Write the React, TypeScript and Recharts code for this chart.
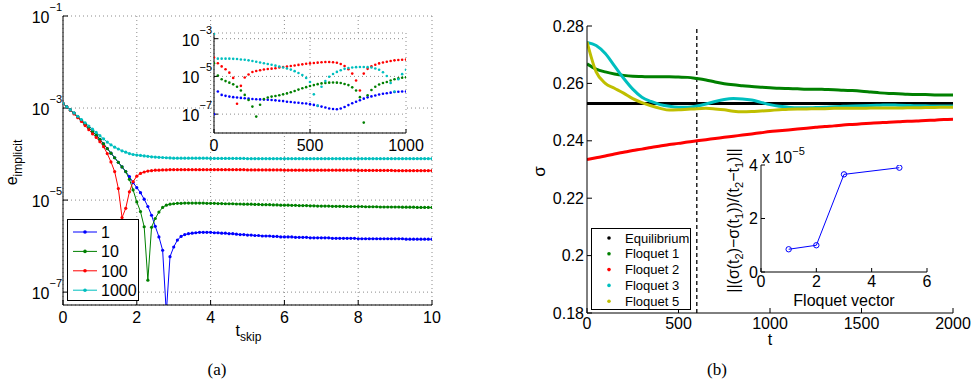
import React from 'react';
import { LineChart, Line, XAxis, YAxis, CartesianGrid, Legend, ReferenceLine } from 'recharts';

const FONT = '"Liberation Sans", Arial, sans-serif';

// ---- panel (a): e_implicit vs t_skip, log10 values ----
const tSkip = Array.from({ length: 101 }, (_, i) => i / 10);

const logE1 = [
  -2.9, -2.97, -3.04, -3.11, -3.19, -3.27, -3.35, -3.43, -3.51, -3.59,
  -3.68, -3.78, -3.88, -3.98, -4.08, -4.18, -4.28, -4.38, -4.49, -4.62,
  -4.73, -4.84, -4.98, -5.14, -5.33, -5.57, -5.8, -6.09, -7.45, -6.23,
  -6.02, -5.87, -5.79, -5.75, -5.73, -5.72, -5.71, -5.7, -5.7, -5.7,
  -5.7, -5.71, -5.71, -5.72, -5.72, -5.73, -5.73, -5.74, -5.75, -5.75,
  -5.76, -5.76, -5.77, -5.77, -5.78, -5.78, -5.78, -5.79, -5.79, -5.8,
  -5.8, -5.8, -5.8, -5.81, -5.81, -5.81, -5.81, -5.82, -5.82, -5.82,
  -5.82, -5.82, -5.82, -5.83, -5.83, -5.83, -5.83, -5.83, -5.83, -5.83,
  -5.84, -5.84, -5.84, -5.84, -5.84, -5.84, -5.84, -5.84, -5.84, -5.84,
  -5.84, -5.84, -5.84, -5.85, -5.85, -5.85, -5.85, -5.85, -5.85, -5.85,
  -5.85,
];
const logE10 = [
  -2.9, -2.97, -3.04, -3.11, -3.19, -3.27, -3.35, -3.43, -3.51, -3.59,
  -3.68, -3.78, -3.88, -3.98, -4.08, -4.18, -4.28, -4.38, -4.55, -4.78,
  -5.04, -5.25, -5.58, -6.74, -5.59, -5.4, -5.26, -5.16, -5.11, -5.09,
  -5.08, -5.07, -5.07, -5.065, -5.065, -5.065, -5.065, -5.065, -5.065, -5.07,
  -5.07, -5.07, -5.075, -5.075, -5.08, -5.08, -5.08, -5.085, -5.085, -5.09,
  -5.09, -5.09, -5.095, -5.095, -5.1, -5.1, -5.1, -5.105, -5.105, -5.11,
  -5.11, -5.11, -5.115, -5.115, -5.12, -5.12, -5.12, -5.125, -5.125, -5.13,
  -5.13, -5.13, -5.13, -5.135, -5.135, -5.135, -5.135, -5.14, -5.14, -5.14,
  -5.14, -5.14, -5.145, -5.145, -5.145, -5.145, -5.15, -5.15, -5.15, -5.15,
  -5.15, -5.15, -5.155, -5.155, -5.155, -5.155, -5.16, -5.16, -5.16, -5.16,
  -5.16,
];
const logE100 = [
  -2.9, -2.97, -3.05, -3.13, -3.21, -3.29, -3.38, -3.47, -3.56, -3.64,
  -3.73, -3.84, -3.99, -4.17, -4.38, -4.75, -5.38, -5.18, -4.82, -4.6,
  -4.48, -4.42, -4.39, -4.37, -4.36, -4.35, -4.35, -4.345, -4.345, -4.34,
  -4.34, -4.34, -4.34, -4.34, -4.34, -4.34, -4.34, -4.34, -4.34, -4.34,
  -4.34, -4.34, -4.34, -4.34, -4.34, -4.34, -4.34, -4.34, -4.34, -4.34,
  -4.345, -4.345, -4.345, -4.345, -4.345, -4.345, -4.345, -4.345, -4.345, -4.345,
  -4.35, -4.35, -4.35, -4.35, -4.35, -4.35, -4.35, -4.35, -4.35, -4.35,
  -4.35, -4.35, -4.35, -4.35, -4.35, -4.35, -4.35, -4.35, -4.35, -4.35,
  -4.355, -4.355, -4.355, -4.355, -4.355, -4.355, -4.355, -4.355, -4.355, -4.355,
  -4.36, -4.36, -4.36, -4.36, -4.36, -4.36, -4.36, -4.36, -4.36, -4.36,
  -4.36,
];
const logE1000 = [
  -2.9, -2.97, -3.04, -3.11, -3.18, -3.25, -3.32, -3.39, -3.46, -3.53,
  -3.6, -3.67, -3.74, -3.8, -3.85, -3.89, -3.93, -3.96, -3.99, -4.01,
  -4.02, -4.03, -4.04, -4.05, -4.06, -4.065, -4.07, -4.075, -4.08, -4.085,
  -4.09, -4.09, -4.09, -4.09, -4.09, -4.09, -4.09, -4.09, -4.09, -4.09,
  -4.095, -4.095, -4.095, -4.095, -4.095, -4.095, -4.095, -4.095, -4.095, -4.095,
  -4.1, -4.1, -4.1, -4.1, -4.1, -4.1, -4.1, -4.1, -4.1, -4.1,
  -4.1, -4.1, -4.1, -4.1, -4.1, -4.1, -4.1, -4.1, -4.1, -4.1,
  -4.1, -4.1, -4.1, -4.1, -4.1, -4.1, -4.1, -4.1, -4.1, -4.1,
  -4.1, -4.1, -4.1, -4.1, -4.1, -4.1, -4.1, -4.1, -4.1, -4.1,
  -4.1, -4.1, -4.1, -4.1, -4.1, -4.1, -4.1, -4.1, -4.1, -4.1,
  -4.1,
];

// ---- panel (a) inset, every 20 steps, log10 values ----
const tInset = Array.from({ length: 51 }, (_, i) => i * 20);

const logIn1 = [
  -7.0, -5.8, -5.98, -6.03, -6.07, -6.1, -6.12, -6.14, -6.16, -6.18,
  -6.2, -6.21, -6.22, -6.23, -6.24, -6.25, -6.27, -6.29, -6.31, -6.34,
  -6.36, -6.38, -6.4, -6.42, -6.44, -6.47, -6.51, -6.56, -6.6, -6.65,
  -6.7, -6.73, -6.74, -6.7, -6.62, -6.52, -6.42, -6.34, -6.26, -6.18,
  -6.11, -6.06, -6.01, -5.96, -5.92, -5.89, -5.86, -5.83, -5.81, -5.8,
  -5.8,
];
const logIn10 = [
  -4.3, -4.95, -5.15, -5.25, -5.33, -5.42, -5.55, -5.75, -5.98, -6.25,
  -6.6, -7.13, -6.5, -6.2, -6.12, -6.07, -6.04, -6.0, -5.95, -5.9,
  -5.84, -5.77, -5.7, -5.63, -5.57, -5.51, -5.46, -5.41, -5.37, -5.35,
  -5.33, -5.32, -5.33, -5.35, -5.4, -5.46, -5.58, -5.75, -6.1, -7.45,
  -6.0, -5.72, -5.55, -5.43, -5.35, -5.3, -5.22, -5.15, -5.1, -5.07,
  -5.05,
];
const logIn100 = [
  -4.0, -4.3, -4.47, -4.62, -4.8, -5.08, -6.45, -5.5, -5.06, -4.9,
  -4.77, -4.71, -4.67, -4.63, -4.61, -4.59, -4.57, -4.53, -4.5, -4.48,
  -4.45, -4.42, -4.39, -4.36, -4.33, -4.31, -4.29, -4.27, -4.25, -4.24,
  -4.24, -4.25, -4.28, -4.34, -4.45, -4.62, -4.85, -5.22, -5.75, -4.85,
  -4.6, -4.47, -4.38, -4.31, -4.26, -4.22, -4.18, -4.15, -4.13, -4.12,
  -4.11,
];
const logIn1000 = [
  -2.75, -4.06, -4.06, -4.06, -4.06, -4.07, -4.08, -4.1, -4.12, -4.15,
  -4.18, -4.22, -4.26, -4.3, -4.34, -4.38, -4.43, -4.48, -4.53, -4.58,
  -4.64, -4.72, -4.82, -4.93, -5.08, -5.3, -5.95, -6.55, -5.55, -5.25,
  -5.02, -4.87, -4.76, -4.67, -4.6, -4.56, -4.53, -4.51, -4.5, -4.5,
  -4.51, -4.53, -4.58, -4.65, -4.78, -4.98, -5.35, -5.8, -5.15, -4.88,
  -4.65,
];

// ---- panel (b): sigma vs t ----
const tSigma = Array.from({ length: 41 }, (_, i) => i * 50);

const sigmaEq = Array(41).fill(0.253);
const sigmaF1 = [
  0.2668, 0.265, 0.264, 0.2633, 0.2628, 0.2625, 0.2624, 0.2623, 0.2623, 0.2623,
  0.2622, 0.2621, 0.2617, 0.2612, 0.2605, 0.2599, 0.2595, 0.2592, 0.2589, 0.2587,
  0.2585, 0.2583, 0.2582, 0.2581, 0.258, 0.258, 0.2579, 0.2578, 0.2576, 0.2575,
  0.2573, 0.257, 0.2567, 0.2565, 0.2564, 0.2562, 0.2561, 0.2561, 0.256, 0.256,
  0.256,
];
const sigmaF2 = [
  0.2335, 0.2341, 0.2347, 0.2354, 0.236, 0.2366, 0.2371, 0.2377, 0.2382, 0.2387,
  0.2391, 0.2396, 0.24, 0.2404, 0.2408, 0.2412, 0.2416, 0.242, 0.2424, 0.2428,
  0.2432, 0.2435, 0.2438, 0.2441, 0.2444, 0.2447, 0.245, 0.2452, 0.2455, 0.2457,
  0.2459, 0.2461, 0.2463, 0.2465, 0.2466, 0.2468, 0.2469, 0.2471, 0.2472, 0.2474,
  0.2475,
];
const sigmaF3 = [
  0.2743, 0.2732, 0.2704, 0.2661, 0.2618, 0.258, 0.2552, 0.2537, 0.2526, 0.252,
  0.2517, 0.2517, 0.2521, 0.2528, 0.2537, 0.2544, 0.2547, 0.2546, 0.2542, 0.2534,
  0.2526, 0.252, 0.2517, 0.2515, 0.2515, 0.2516, 0.2517, 0.2519, 0.252, 0.2521,
  0.2522, 0.2523, 0.2524, 0.2525, 0.2524, 0.2523, 0.2522, 0.2522, 0.2521, 0.2521,
  0.2521,
];
const sigmaF5 = [
  0.2745, 0.264, 0.26, 0.2583, 0.2566, 0.2547, 0.2533, 0.2522, 0.2513, 0.2507,
  0.2508, 0.251, 0.2512, 0.2513, 0.2511, 0.2508, 0.2503, 0.2501, 0.2502, 0.2504,
  0.2506, 0.2508, 0.251, 0.2511, 0.2511, 0.2512, 0.2512, 0.2513, 0.2513, 0.2513,
  0.2513, 0.2514, 0.2514, 0.2514, 0.2514, 0.2515, 0.2515, 0.2516, 0.2516, 0.2517,
  0.2517,
];

// ---- panel (b) inset ----
const floquetVector = [1, 2, 3, 5];
const floquetRate = [0.85, 1.0, 3.65, 3.9]; // x 1e-5

const skipSeries = [
  { key: 'e1', name: '1', color: '#0000ff', main: logE1, inset: logIn1 },
  { key: 'e10', name: '10', color: '#008000', main: logE10, inset: logIn10 },
  { key: 'e100', name: '100', color: '#ff0000', main: logE100, inset: logIn100 },
  { key: 'e1000', name: '1000', color: '#00bfbf', main: logE1000, inset: logIn1000 },
];

const sigmaSeries = [
  { key: 'eq', name: 'Equilibrium', color: '#000000', data: sigmaEq },
  { key: 'f1', name: 'Floquet 1', color: '#008000', data: sigmaF1 },
  { key: 'f2', name: 'Floquet 2', color: '#ff0000', data: sigmaF2 },
  { key: 'f3', name: 'Floquet 3', color: '#00bfbf', data: sigmaF3 },
  { key: 'f5', name: 'Floquet 5', color: '#bfbf00', data: sigmaF5 },
];

const mainRows = tSkip.map((t, i) => {
  const row: any = { t };
  skipSeries.forEach((s) => { row[s.key] = 10 ** s.main[i]; });
  return row;
});
const insetRows = tInset.map((t, i) => {
  const row: any = { t };
  skipSeries.forEach((s) => { row[s.key] = 10 ** s.inset[i]; });
  return row;
});
const sigmaRows = tSigma.map((t, i) => {
  const row: any = { t };
  sigmaSeries.forEach((s) => { row[s.key] = s.data[i]; });
  return row;
});
const rateRows = floquetVector.map((v, i) => ({ v, r: floquetRate[i] }));

const tickStyle = { fontSize: 16, fill: '#000' };
const MINUS = '\u2212';

const PowTick = (props: any) => {
  const { x, y, payload } = props;
  const exp = Math.round(Math.log10(payload.value));
  return (
    <text x={x} y={y} dy={7} textAnchor="end" fontSize={16} fill="#000">
      10<tspan dy={-12} fontSize={11}>{MINUS + Math.abs(exp)}</tspan>
    </text>
  );
};

const SkipLegend = () => (
  <svg width={72} height={82} style={{ display: 'block' }}>
    <rect x={0.5} y={0.5} width={71} height={81} fill="#fff" stroke="#000" />
    {skipSeries.map((s, i) => {
      const y = 13 + i * 19.4;
      return (
        <g key={s.key}>
          <line x1={6} x2={30} y1={y} y2={y} stroke={s.color} strokeWidth={1} />
          <circle cx={18} cy={y} r={1.8} fill={s.color} />
          <text x={34} y={y + 6} fontSize={16} fill="#000" fontFamily={FONT}>{s.name}</text>
        </g>
      );
    })}
  </svg>
);

const SigmaLegend = () => (
  <svg width={100} height={82} style={{ display: 'block' }}>
    <rect x={0.5} y={0.5} width={99} height={81} fill="#fff" stroke="#000" />
    {sigmaSeries.map((s, i) => {
      const y = 10 + i * 15.8;
      return (
        <g key={s.key}>
          <circle cx={18} cy={y} r={1.8} fill={s.color} />
          <text x={34} y={y + 4.5} fontSize={13} fill="#000" fontFamily={FONT}>{s.name}</text>
        </g>
      );
    })}
  </svg>
);

const vbOf = (p: any) => p.viewBox || { x: 0, y: 0, width: 0, height: 0 };

const App = () => {
  return (
    <div style={{ position: 'absolute', left: 0, top: 0, width: 974, height: 382, background: '#fff', fontFamily: FONT }}>
      {/* (a) main */}
      <div style={{ position: 'absolute', left: 0, top: 0 }}>
        <LineChart width={445} height={345} data={mainRows} margin={{ top: 16, right: 13, bottom: 0, left: 0 }}>
          <CartesianGrid stroke="#8c8c8c" strokeDasharray="1 3" />
          <XAxis
            dataKey="t" type="number" domain={[0, 10]} ticks={[0, 2, 4, 6, 8, 10]}
            height={40} tickSize={-5} tickMargin={12} stroke="#000" tick={tickStyle} allowDataOverflow
            label={(p: any) => {
              const vb = vbOf(p);
              return (
                <text x={vb.x + vb.width / 2 + 1} y={vb.y + 31} textAnchor="middle" fontSize={16} fill="#000">
                  t<tspan dy={5} fontSize={12}>skip</tspan>
                </text>
              );
            }}
          />
          <XAxis xAxisId="top" orientation="top" type="number" domain={[0, 10]} ticks={[0, 2, 4, 6, 8, 10]}
            height={0} tick={false} tickSize={-5} stroke="#000" allowDataOverflow />
          <YAxis
            scale="log" type="number" domain={[5.25e-8, 0.1]} ticks={[1e-7, 1e-5, 1e-3, 1e-1]}
            width={63} tickSize={-5} tickMargin={6} stroke="#000" tick={PowTick} allowDataOverflow
            label={(p: any) => {
              const vb = vbOf(p);
              const cx = 17;
              const cy = vb.y + vb.height / 2 + 2;
              return (
                <text transform={`rotate(-90 ${cx} ${cy})`} x={cx} y={cy} textAnchor="middle" fontSize={16} fill="#000">
                  e<tspan dy={5} fontSize={12}>implicit</tspan>
                </text>
              );
            }}
          />
          <YAxis yAxisId="right" orientation="right" scale="log" type="number" domain={[5.25e-8, 0.1]}
            ticks={[1e-7, 1e-5, 1e-3, 1e-1]} width={0} tick={false} tickSize={-5} stroke="#000" allowDataOverflow />
          {skipSeries.map((s) => (
            <Line key={s.key} dataKey={s.key} name={s.name} type="linear" stroke={s.color} strokeWidth={1}
              dot={{ r: 1.6, fill: s.color, stroke: s.color, strokeWidth: 0 }} isAnimationActive={false} />
          ))}
          <Legend layout="vertical" align="center" verticalAlign="middle"
            wrapperStyle={{ left: 67, top: 219, width: 72, height: 82 }} content={() => <SkipLegend />} />
        </LineChart>
      </div>

      {/* (a) inset */}
      <div style={{ position: 'absolute', left: 160, top: 18 }}>
        <LineChart width={270} height={145} data={insetRows} margin={{ top: 15, right: 24, bottom: 0, left: 0 }}>
          <CartesianGrid fill="#fff" stroke="#8c8c8c" strokeDasharray="1 3" />
          <XAxis dataKey="t" type="number" domain={[0, 1000]} ticks={[0, 500, 1000]} height={30}
            tickSize={-4} tickMargin={11} stroke="#000" tick={tickStyle} allowDataOverflow />
          <XAxis xAxisId="top" orientation="top" type="number" domain={[0, 1000]} ticks={[0, 500, 1000]}
            height={0} tick={false} tickSize={-4} stroke="#000" allowDataOverflow />
          <YAxis scale="log" type="number" domain={[1e-8, 2e-3]} ticks={[1e-7, 1e-5, 1e-3]} width={54}
            tickSize={-4} tickMargin={6} stroke="#000" tick={PowTick} allowDataOverflow />
          <YAxis yAxisId="right" orientation="right" scale="log" type="number" domain={[1e-8, 2e-3]}
            ticks={[1e-7, 1e-5, 1e-3]} width={0} tick={false} tickSize={-4} stroke="#000" allowDataOverflow />
          {skipSeries.map((s) => (
            <Line key={s.key} dataKey={s.key} type="linear" stroke="none" strokeWidth={0}
              dot={{ r: 1.3, fill: s.color, stroke: 'none' }} isAnimationActive={false} />
          ))}
        </LineChart>
      </div>

      {/* (b) main */}
      <div style={{ position: 'absolute', left: 530, top: 0 }}>
        <LineChart width={444} height={348} data={sigmaRows} margin={{ top: 26, right: 21, bottom: 0, left: 0 }}>
          <XAxis
            dataKey="t" type="number" domain={[0, 2000]} ticks={[0, 500, 1000, 1500, 2000]}
            height={35} tickSize={-5} tickMargin={10} stroke="#000" tick={tickStyle} allowDataOverflow
            label={(p: any) => {
              const vb = vbOf(p);
              return (
                <text x={vb.x + vb.width / 2} y={vb.y + 32} textAnchor="middle" fontSize={16} fill="#000">t</text>
              );
            }}
          />
          <XAxis xAxisId="top" orientation="top" type="number" domain={[0, 2000]} ticks={[0, 500, 1000, 1500, 2000]}
            height={0} tick={false} tickSize={-5} stroke="#000" allowDataOverflow />
          <YAxis
            type="number" domain={[0.18, 0.28]} ticks={[0.18, 0.2, 0.22, 0.24, 0.26, 0.28]}
            width={57} tickSize={-5} tickMargin={8} stroke="#000" tick={tickStyle} allowDataOverflow
            tickFormatter={(v: number) => String(v)}
            label={(p: any) => {
              const vb = vbOf(p);
              const cx = 15;
              const cy = vb.y + vb.height / 2 + 2;
              return (
                <text transform={`rotate(-90 ${cx} ${cy})`} x={cx} y={cy} textAnchor="middle" fontSize={17} fill="#000">σ</text>
              );
            }}
          />
          <YAxis yAxisId="right" orientation="right" type="number" domain={[0.18, 0.28]}
            ticks={[0.18, 0.2, 0.22, 0.24, 0.26, 0.28]} width={0} tick={false} tickSize={-5} stroke="#000" allowDataOverflow />
          <ReferenceLine x={600} stroke="#000" strokeDasharray="4 3" strokeWidth={1.3} />
          {sigmaSeries.map((s) => (
            <Line key={s.key} dataKey={s.key} name={s.name} type="monotone" stroke={s.color} strokeWidth={3}
              dot={false} isAnimationActive={false} />
          ))}
          <Legend layout="vertical" align="center" verticalAlign="middle"
            wrapperStyle={{ left: 61, top: 228, width: 100, height: 82 }} content={() => <SigmaLegend />} />
        </LineChart>
      </div>

      {/* (b) inset */}
      <div style={{ position: 'absolute', left: 700, top: 138 }}>
        <LineChart width={240} height={172} data={rateRows} margin={{ top: 27, right: 13, bottom: 0, left: 0 }}>
          <CartesianGrid fill="#fff" horizontal={false} vertical={false} />
          <XAxis
            dataKey="v" type="number" domain={[0, 6]} ticks={[0, 2, 4, 6]} height={38}
            tickSize={-4} tickMargin={8} stroke="#000" tick={tickStyle} allowDataOverflow
            label={(p: any) => {
              const vb = vbOf(p);
              return (
                <text x={vb.x + vb.width / 2} y={vb.y + 34} textAnchor="middle" fontSize={16} fill="#000">Floquet vector</text>
              );
            }}
          />
          <XAxis xAxisId="top" orientation="top" type="number" domain={[0, 6]} ticks={[0, 2, 4, 6]}
            height={0} tick={false} tickSize={-4} stroke="#000" allowDataOverflow />
          <YAxis
            type="number" domain={[0, 4]} ticks={[0, 2, 4]} width={61}
            tickSize={-4} tickMargin={7} stroke="#000" tick={tickStyle} allowDataOverflow
            label={(p: any) => {
              const vb = vbOf(p);
              const cx = 39;
              const cy = vb.y + vb.height / 2 + 2;
              return (
                <g>
                  <text transform={`rotate(-90 ${cx} ${cy})`} x={cx} y={cy} textAnchor="middle" fontSize={16} fill="#000">
                    ||(σ(t<tspan dy={4} fontSize={11}>2</tspan>
                    <tspan dy={-4}>){MINUS}σ(t</tspan>
                    <tspan dy={4} fontSize={11}>1</tspan>
                    <tspan dy={-4}>))/(t</tspan>
                    <tspan dy={4} fontSize={11}>2</tspan>
                    <tspan dy={-4}>{MINUS}t</tspan>
                    <tspan dy={4} fontSize={11}>1</tspan>
                    <tspan dy={-4}>)||</tspan>
                  </text>
                  <text x={62} y={vb.y - 2} fontSize={16} fill="#000">
                    x 10<tspan dy={-8} fontSize={11}>{MINUS}5</tspan>
                  </text>
                </g>
              );
            }}
          />
          <YAxis yAxisId="right" orientation="right" type="number" domain={[0, 4]} ticks={[0, 2, 4]}
            width={0} tick={false} tickSize={-4} stroke="#000" allowDataOverflow />
          <Line dataKey="r" type="linear" stroke="#0000ff" strokeWidth={1}
            dot={{ r: 2.7, fill: 'none', stroke: '#0000ff', strokeWidth: 1 }} isAnimationActive={false} />
        </LineChart>
      </div>

      <div style={{ position: 'absolute', left: 197, top: 361, width: 40, textAlign: 'center', fontFamily: '"Liberation Serif", serif', fontSize: 17, lineHeight: '17px' }}>(a)</div>
      <div style={{ position: 'absolute', left: 697, top: 361, width: 40, textAlign: 'center', fontFamily: '"Liberation Serif", serif', fontSize: 17, lineHeight: '17px' }}>(b)</div>
    </div>
  );
};

export default App;
